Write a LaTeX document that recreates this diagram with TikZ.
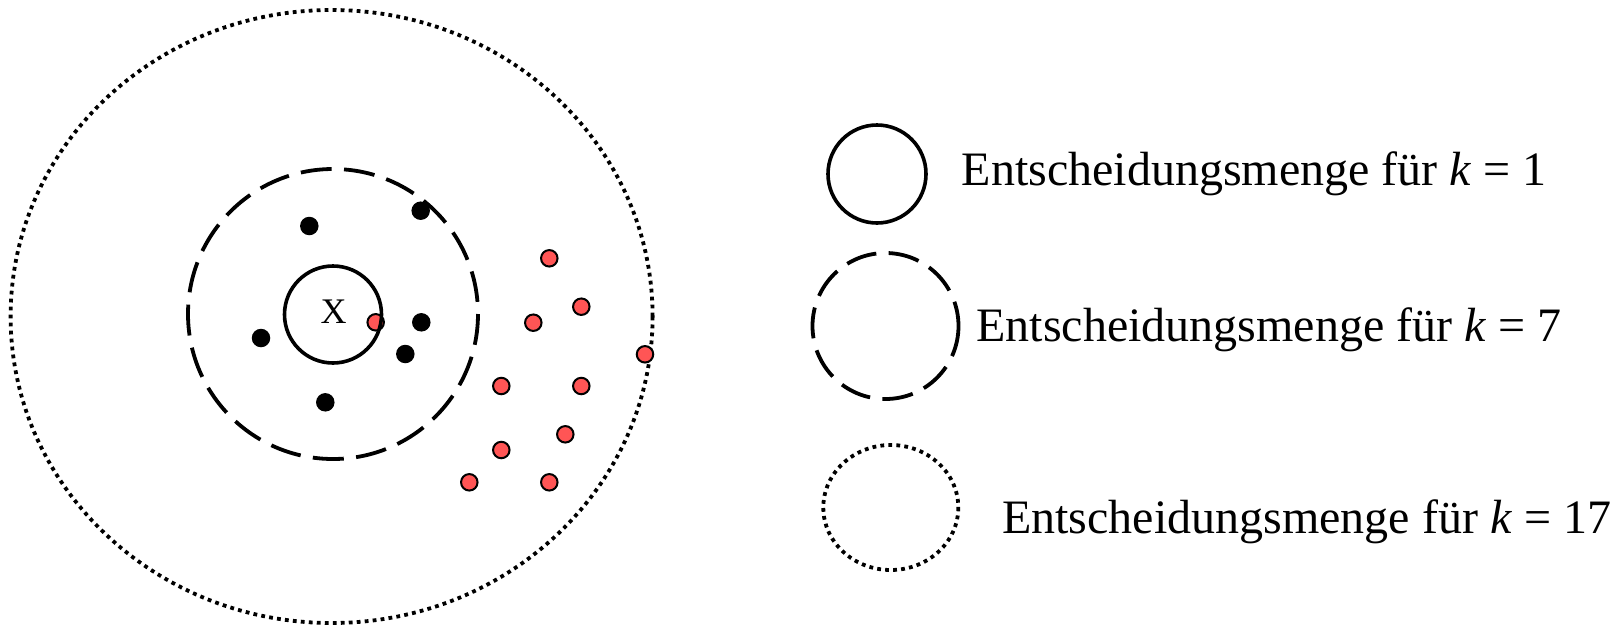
\documentclass[tikz,border=0pt]{standalone}
\usepackage{fontspec}
\setmainfont{Liberation Serif}
\definecolor{ptred}{RGB}{255,85,85}
\begin{document}
\begin{tikzpicture}[x=1pt,y=-1pt,
  solidring/.style={draw=black,line width=3.6pt},
  dashring/.style={draw=black,line width=3.8pt,dash pattern=on 31pt off 12.4pt},
  dotring/.style={draw=black,line width=3.8pt,dash pattern=on 3.8pt off 4.2pt},
  blackpt/.style={circle,fill=black,inner sep=0pt,minimum size=18.5pt},
  redpt/.style={circle,fill=ptred,draw=black,line width=2pt,inner sep=0pt,minimum size=16.5pt},
  legendtext/.style={anchor=base west,inner sep=0pt,font=\fontsize{48}{50}\selectfont}
]
\useasboundingbox (0,0) rectangle (1620,625);

% neighbourhood of the query point
\draw[dotring] (331.6,316.5) ellipse [x radius=321, y radius=306.5];
\draw[dashring] (333,314) circle [radius=145];

% labelled points inside the k=7 set
\node[blackpt] (b1) at (309.3,226) {};
\node[blackpt] (b2) at (420.7,210.7) {};
\node[blackpt] (b3) at (261,338) {};
\node[blackpt] (b4) at (421.3,322.3) {};
\node[blackpt] (b5) at (405.3,354) {};
\node[blackpt] (b6) at (325.3,402.3) {};

% points of the other class
\node[redpt] (r0) at (375.7,322.3) {};
\node[redpt] (r1) at (549.3,258.3) {};
\node[redpt] (r2) at (581.3,306.7) {};
\node[redpt] (r3) at (533.3,322.7) {};
\node[redpt] (r4) at (645,354.3) {};
\node[redpt] (r5) at (501.3,386) {};
\node[redpt] (r6) at (581.3,386) {};
\node[redpt] (r7) at (565.3,434.3) {};
\node[redpt] (r8) at (501.3,450) {};
\node[redpt] (r9) at (469.3,482.3) {};
\node[redpt] (r10) at (549.3,482.3) {};

% k=1 set and query point
\draw[solidring] (333,314.5) circle [radius=48.5];
\node[font=\fontsize{36}{37}\selectfont,inner sep=0pt] (x) at (333.7,312) {X};

% legend
\draw[solidring] (877,174) circle [radius=49];
\draw[dashring] (885.5,326) circle [radius=73];
\draw[dotring] (890.8,507.5) ellipse [x radius=67.5, y radius=62.5];

\node[legendtext] (l1) at (961.7,185) {Entscheidungsmenge für \textit{k} = 1};
\node[legendtext] (l2) at (976.4,341.7) {Entscheidungsmenge für \textit{k} = 7};
\node[legendtext] (l3) at (1002,533) {Entscheidungsmenge für \textit{k} = 17};
\end{tikzpicture}
\end{document}
